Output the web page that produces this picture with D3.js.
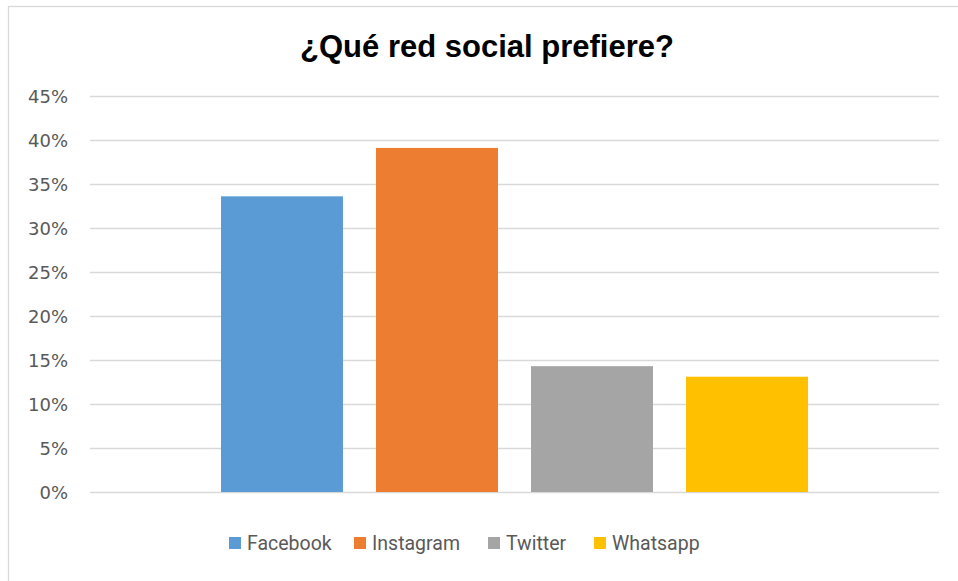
<!DOCTYPE html>
<html>
<head>
<meta charset="utf-8">
<script src="https://cdn.jsdelivr.net/npm/d3@7"></script>
<style>
  body { margin: 0; background: #fff; }
  svg { display: block; }
</style>
</head>
<body>
<script>
// Data
var title = "¿Qué red social prefiere?";
var series = ["Facebook", "Instagram", "Twitter", "Whatsapp"];
var values = [0.336, 0.391, 0.143, 0.131];
var colors = ["#5b9bd5", "#ed7d31", "#a5a5a5", "#ffc000"];
var yTicks = [0, 0.05, 0.10, 0.15, 0.20, 0.25, 0.30, 0.35, 0.40, 0.45];

var W = 958, H = 581;
var plot = {left: 90, right: 939, top: 96, bottom: 492};

var svg = d3.select("body").append("svg")
    .attr("width", W)
    .attr("height", H);

// chart area border (right/bottom edges fall outside the picture)
svg.append("rect")
    .attr("x", 8.5).attr("y", 6.5)
    .attr("width", W + 10).attr("height", H + 10)
    .attr("fill", "#fff")
    .attr("stroke", "#d9d9d9")
    .attr("stroke-width", 1.3);

// Scales
var y = d3.scaleLinear().domain([0, 0.45]).range([plot.bottom, plot.top]);
var x = d3.scaleBand()
    .domain(series)
    .range([plot.left, plot.right])
    .paddingInner(0.213)
    .paddingOuter(0.845);
var color = d3.scaleOrdinal().domain(series).range(colors);

// Gridlines
svg.append("g")
    .selectAll("line")
    .data(yTicks)
    .enter().append("line")
    .attr("x1", plot.left).attr("x2", plot.right)
    .attr("y1", d => Math.round(y(d)) + 0.5)
    .attr("y2", d => Math.round(y(d)) + 0.5)
    .attr("stroke", "#d9d9d9")
    .attr("stroke-width", 1.3);

// Y axis labels
var yAxis = svg.append("g")
    .attr("transform", `translate(${plot.left - 22}, 0)`)
    .call(d3.axisLeft(y).tickValues(yTicks).tickFormat(d3.format(".0%")).tickSize(0).tickPadding(0));
yAxis.select(".domain").remove();
yAxis.selectAll("text")
    .attr("fill", "#595959")
    .attr("font-family", "DejaVu Sans, sans-serif")
    .attr("font-size", 18)
    .attr("dy", "0.36em");

// Bars
svg.append("g")
    .selectAll("rect")
    .data(series)
    .enter().append("rect")
    .attr("x", d => x(d))
    .attr("width", x.bandwidth())
    .attr("y", (d, i) => y(values[i]))
    .attr("height", (d, i) => y(0) - y(values[i]))
    .attr("fill", d => color(d));

// Title
svg.append("text")
    .attr("x", 487)
    .attr("y", 57)
    .attr("text-anchor", "middle")
    .attr("font-family", "Liberation Sans, Arial, sans-serif")
    .attr("font-weight", "bold")
    .attr("font-size", 31)
    .attr("fill", "#000")
    .text(title);

// Legend
var legendX = [229, 354, 488, 594];
var legend = svg.append("g")
    .selectAll("g")
    .data(series)
    .enter().append("g")
    .attr("transform", (d, i) => `translate(${legendX[i]}, 537)`);

legend.append("rect")
    .attr("width", 12).attr("height", 12)
    .attr("fill", d => color(d));

legend.append("text")
    .attr("x", 18)
    .attr("y", 6)
    .attr("dy", "0.36em")
    .attr("fill", "#595959")
    .attr("font-family", "Roboto, sans-serif")
    .attr("font-size", 19.5)
    .text(d => d);
</script>
</body>
</html>
